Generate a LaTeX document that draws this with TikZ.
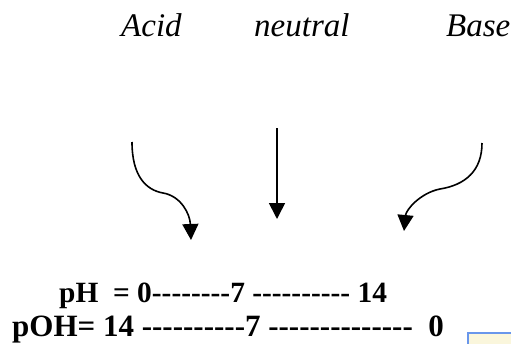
\documentclass[tikz,border=0pt]{standalone}
\usepackage{fontspec}
\setmainfont{Liberation Serif}[Ligatures=TeXOff]
\usetikzlibrary{arrows.meta, positioning}
\definecolor{frameblue}{RGB}{105, 150, 235}
\definecolor{paleyellow}{RGB}{250, 246, 220}

\begin{document}
\begin{tikzpicture}[
        x=1pt, y=-1pt,
        kind/.style={inner sep=0pt, anchor=base west,
                     font=\fontsize{33}{38}\selectfont\itshape},
        phline/.style={inner sep=0pt, anchor=base west,
                       font=\fontsize{29.4}{36}\selectfont\bfseries},
        pohline/.style={phline, font=\fontsize{31}{36}\selectfont\bfseries},
        arrow/.style={-{Triangle[length=16pt, width=16pt]}, line width=1.6pt},
    ]
        \fill[white, use as bounding box] (0,0) rectangle (511,343);

        \node[kind] (acid) at (121,36) {Acid};
        \node[kind] (neutral) at (254,36) {neutral};
        \node[kind] (base) at (446,36) {Base};

        \coordinate (acidtail) at (132,142);
        \coordinate (acidtip) at (191,240);
        \coordinate (neutraltail) at (277,128);
        \coordinate (neutraltip) at (277,219);
        \coordinate (basetail) at (482,143);
        \coordinate (basetip) at (404,231);

        \draw[arrow] (acidtail) .. controls (132,176) and (146,190) .. (163,193)
                                .. controls (181,196) and (190,214) .. (acidtip);
        \draw[arrow] (neutraltail) -- (neutraltip);
        \draw[arrow] (basetail) .. controls (482,171) and (465,185) .. (440,189)
                                .. controls (420,193) and (406,210) .. (basetip);

        \node[phline] (ph) at (59,302) {pH\ \ = 0--------7 ---------- 14};
        \node[pohline] (poh) at (12,336) {pOH= 14 ----------7 --------------\ \ 0};

        % corner of the next box
        \draw[frameblue, line width=2pt, fill=paleyellow] (468,333) rectangle (520,350);
    \end{tikzpicture}
\end{document}
